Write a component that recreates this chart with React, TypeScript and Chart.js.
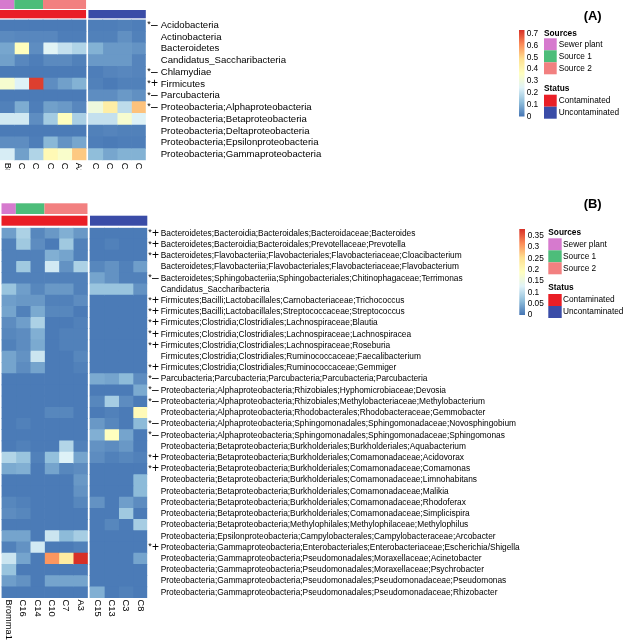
import { useEffect, useRef } from "react";
import { Chart, registerables } from "chart.js";
Chart.register(...registerables);

// ---------------- data ----------------
const samples = ["Bromma1", "C16", "C14", "C10", "C7", "A3", "C15", "C13", "C3", "C8"];
const sampleSource: (string | null)[] = ["Sewer plant", "Source 1", "Source 1", "Source 2", "Source 2", "Source 2", null, null, null, null];
const sampleStatus = ["Contaminated", "Contaminated", "Contaminated", "Contaminated", "Contaminated", "Contaminated", "Uncontaminated", "Uncontaminated", "Uncontaminated", "Uncontaminated"];
const sourceLevels = ["Sewer plant", "Source 1", "Source 2"];
const statusLevels = ["Contaminated", "Uncontaminated"];

const phylumLabels = [
  "Acidobacteria",
  "Actinobacteria",
  "Bacteroidetes",
  "Candidatus_Saccharibacteria",
  "Chlamydiae",
  "Firmicutes",
  "Parcubacteria",
  "Proteobacteria;Alphaproteobacteria",
  "Proteobacteria;Betaproteobacteria",
  "Proteobacteria;Deltaproteobacteria",
  "Proteobacteria;Epsilonproteobacteria",
  "Proteobacteria;Gammaproteobacteria",
];
const phylumMarks = ["–", "", "", "", "–", "+", "–", "–", "", "", "", ""];
const phylumValues = [
  [0.01, 0.01, 0.01, 0.01, 0.01, 0.01, 0.015, 0.015, 0.02, 0.015],
  [0.035, 0.03, 0.03, 0.03, 0.015, 0.015, 0.02, 0.02, 0.045, 0.02],
  [0.08, 0.37, 0.04, 0.25, 0.2, 0.17, 0.1, 0.06, 0.06, 0.05],
  [0.07, 0.03, 0.015, 0.035, 0.035, 0.02, 0.06, 0.06, 0.06, 0.025],
  [0.01, 0.01, 0.01, 0.01, 0.01, 0.01, 0.015, 0.025, 0.03, 0.025],
  [0.33, 0.24, 0.71, 0.04, 0.07, 0.1, 0.02, 0.01, 0.02, 0.02],
  [0.01, 0.01, 0.01, 0.01, 0.01, 0.01, 0.04, 0.04, 0.06, 0.045],
  [0.02, 0.09, 0.015, 0.07, 0.06, 0.03, 0.3, 0.43, 0.19, 0.53],
  [0.22, 0.22, 0.04, 0.15, 0.37, 0.16, 0.2, 0.2, 0.33, 0.24],
  [0.01, 0.01, 0.01, 0.01, 0.01, 0.01, 0.02, 0.025, 0.02, 0.02],
  [0.04, 0.04, 0.015, 0.11, 0.05, 0.08, 0.015, 0.01, 0.015, 0.015],
  [0.23, 0.07, 0.17, 0.39, 0.34, 0.52, 0.12, 0.08, 0.1, 0.1],
];
const phylumTicks = [0, 0.1, 0.2, 0.3, 0.4, 0.5, 0.6, 0.7];
const phylumMax = 0.73;

const genusLabels = [
  "Bacteroidetes;Bacteroidia;Bacteroidales;Bacteroidaceae;Bacteroides",
  "Bacteroidetes;Bacteroidia;Bacteroidales;Prevotellaceae;Prevotella",
  "Bacteroidetes;Flavobacteriia;Flavobacteriales;Flavobacteriaceae;Cloacibacterium",
  "Bacteroidetes;Flavobacteriia;Flavobacteriales;Flavobacteriaceae;Flavobacterium",
  "Bacteroidetes;Sphingobacteriia;Sphingobacteriales;Chitinophagaceae;Terrimonas",
  "Candidatus_Saccharibacteria",
  "Firmicutes;Bacilli;Lactobacillales;Carnobacteriaceae;Trichococcus",
  "Firmicutes;Bacilli;Lactobacillales;Streptococcaceae;Streptococcus",
  "Firmicutes;Clostridia;Clostridiales;Lachnospiraceae;Blautia",
  "Firmicutes;Clostridia;Clostridiales;Lachnospiraceae;Lachnospiracea",
  "Firmicutes;Clostridia;Clostridiales;Lachnospiraceae;Roseburia",
  "Firmicutes;Clostridia;Clostridiales;Ruminococcaceae;Faecalibacterium",
  "Firmicutes;Clostridia;Clostridiales;Ruminococcaceae;Gemmiger",
  "Parcubacteria;Parcubacteria;Parcubacteria;Parcubacteria;Parcubacteria",
  "Proteobacteria;Alphaproteobacteria;Rhizobiales;Hyphomicrobiaceae;Devosia",
  "Proteobacteria;Alphaproteobacteria;Rhizobiales;Methylobacteriaceae;Methylobacterium",
  "Proteobacteria;Alphaproteobacteria;Rhodobacterales;Rhodobacteraceae;Gemmobacter",
  "Proteobacteria;Alphaproteobacteria;Sphingomonadales;Sphingomonadaceae;Novosphingobium",
  "Proteobacteria;Alphaproteobacteria;Sphingomonadales;Sphingomonadaceae;Sphingomonas",
  "Proteobacteria;Betaproteobacteria;Burkholderiales;Burkholderiales;Aquabacterium",
  "Proteobacteria;Betaproteobacteria;Burkholderiales;Comamonadaceae;Acidovorax",
  "Proteobacteria;Betaproteobacteria;Burkholderiales;Comamonadaceae;Comamonas",
  "Proteobacteria;Betaproteobacteria;Burkholderiales;Comamonadaceae;Limnohabitans",
  "Proteobacteria;Betaproteobacteria;Burkholderiales;Comamonadaceae;Malikia",
  "Proteobacteria;Betaproteobacteria;Burkholderiales;Comamonadaceae;Rhodoferax",
  "Proteobacteria;Betaproteobacteria;Burkholderiales;Comamonadaceae;Simplicispira",
  "Proteobacteria;Betaproteobacteria;Methylophilales;Methylophilaceae;Methylophilus",
  "Proteobacteria;Epsilonproteobacteria;Campylobacterales;Campylobacteraceae;Arcobacter",
  "Proteobacteria;Gammaproteobacteria;Enterobacteriales;Enterobacteriaceae;Escherichia/Shigella",
  "Proteobacteria;Gammaproteobacteria;Pseudomonadales;Moraxellaceae;Acinetobacter",
  "Proteobacteria;Gammaproteobacteria;Pseudomonadales;Moraxellaceae;Psychrobacter",
  "Proteobacteria;Gammaproteobacteria;Pseudomonadales;Pseudomonadaceae;Pseudomonas",
  "Proteobacteria;Gammaproteobacteria;Pseudomonadales;Pseudomonadaceae;Rhizobacter",
];
const genusMarks = ["+", "+", "+", "", "–", "", "+", "+", "+", "+", "+", "", "+", "–", "–", "–", "", "–", "–", "", "+", "+", "", "", "", "", "", "", "+", "", "", "", ""];
const genusValues = [
  [0.035, 0.085, 0.015, 0.03, 0.05, 0.03, 0.005, 0.005, 0.005, 0.005],
  [0.01, 0.075, 0.02, 0.005, 0.075, 0.01, 0.005, 0.01, 0.005, 0.005],
  [0.01, 0.01, 0.01, 0.05, 0.04, 0.01, 0.005, 0.005, 0.005, 0.005],
  [0.01, 0.075, 0.01, 0.115, 0.025, 0.085, 0.015, 0.025, 0.01, 0.035],
  [0.01, 0.01, 0.01, 0.01, 0.01, 0.01, 0.04, 0.025, 0.01, 0.01],
  [0.07, 0.035, 0.015, 0.03, 0.03, 0.01, 0.07, 0.07, 0.07, 0.025],
  [0.035, 0.03, 0.03, 0.01, 0.01, 0.02, 0.005, 0.005, 0.005, 0.005],
  [0.04, 0.01, 0.045, 0.015, 0.015, 0.005, 0.005, 0.005, 0.005, 0.005],
  [0.02, 0.035, 0.085, 0.005, 0.005, 0.01, 0.005, 0.005, 0.005, 0.005],
  [0.015, 0.02, 0.05, 0.005, 0.01, 0.01, 0.005, 0.005, 0.005, 0.005],
  [0.01, 0.02, 0.045, 0.005, 0.01, 0.01, 0.005, 0.005, 0.005, 0.005],
  [0.04, 0.025, 0.11, 0.005, 0.005, 0.015, 0.005, 0.005, 0.005, 0.005],
  [0.04, 0.02, 0.04, 0.005, 0.005, 0.01, 0.005, 0.005, 0.005, 0.005],
  [0.005, 0.005, 0.005, 0.005, 0.005, 0.005, 0.045, 0.04, 0.06, 0.02],
  [0.005, 0.005, 0.005, 0.005, 0.005, 0.005, 0.005, 0.005, 0.005, 0.045],
  [0.005, 0.005, 0.005, 0.005, 0.005, 0.005, 0.015, 0.08, 0.02, 0.005],
  [0.005, 0.005, 0.005, 0.015, 0.015, 0.005, 0.005, 0.01, 0.005, 0.2],
  [0.005, 0.01, 0.005, 0.005, 0.005, 0.005, 0.03, 0.015, 0.005, 0.06],
  [0.005, 0.005, 0.005, 0.005, 0.005, 0.005, 0.05, 0.19, 0.04, 0.005],
  [0.005, 0.01, 0.005, 0.005, 0.09, 0.01, 0.025, 0.02, 0.03, 0.005],
  [0.09, 0.07, 0.01, 0.065, 0.125, 0.04, 0.02, 0.01, 0.015, 0.01],
  [0.045, 0.05, 0.005, 0.04, 0.015, 0.02, 0.005, 0.005, 0.005, 0.005],
  [0.005, 0.005, 0.005, 0.005, 0.005, 0.03, 0.005, 0.005, 0.005, 0.06],
  [0.005, 0.005, 0.005, 0.005, 0.005, 0.025, 0.005, 0.005, 0.005, 0.06],
  [0.015, 0.01, 0.005, 0.005, 0.005, 0.015, 0.025, 0.005, 0.035, 0.02],
  [0.02, 0.015, 0.005, 0.005, 0.005, 0.005, 0.005, 0.005, 0.075, 0.005],
  [0.005, 0.005, 0.005, 0.005, 0.005, 0.005, 0.005, 0.015, 0.005, 0.08],
  [0.04, 0.04, 0.005, 0.11, 0.06, 0.08, 0.005, 0.005, 0.005, 0.005],
  [0.01, 0.025, 0.115, 0.005, 0.005, 0.01, 0.005, 0.005, 0.005, 0.005],
  [0.11, 0.04, 0.005, 0.31, 0.23, 0.38, 0.005, 0.005, 0.005, 0.04],
  [0.07, 0.005, 0.005, 0.005, 0.005, 0.005, 0.005, 0.005, 0.005, 0.005],
  [0.035, 0.025, 0.005, 0.04, 0.04, 0.04, 0.005, 0.005, 0.005, 0.005],
  [0.005, 0.005, 0.005, 0.005, 0.005, 0.005, 0.05, 0.005, 0.01, 0.005],
];
const genusTicks = [0, 0.05, 0.1, 0.15, 0.2, 0.25, 0.3, 0.35];
const genusMax = 0.38;

// ---------------- styles ----------------
const PALETTE = ["#4575B4", "#91BFDB", "#E0F3F8", "#FFFFBF", "#FEE090", "#FC8D59", "#D73027"];
const SOURCE_COLORS: Record<string, string> = { "Sewer plant": "#D67ACE", "Source 1": "#4DBD7A", "Source 2": "#F28080" };
const STATUS_COLORS: Record<string, string> = { Contaminated: "#E91E26", Uncontaminated: "#3A4CA7" };
const FONT = '"Liberation Sans", Arial, Helvetica, sans-serif';

function hexRgb(h: string) {
  return [parseInt(h.slice(1, 3), 16), parseInt(h.slice(3, 5), 16), parseInt(h.slice(5, 7), 16)];
}
const PAL_RGB = PALETTE.map(hexRgb);
function heatColor(t: number) {
  const c = Math.max(0, Math.min(1, t)) * (PAL_RGB.length - 1);
  const i = Math.min(PAL_RGB.length - 2, Math.floor(c));
  const f = c - i;
  const a = PAL_RGB[i], b = PAL_RGB[i + 1];
  const m = (k: number) => Math.round(a[k] + (b[k] - a[k]) * f);
  return `rgb(${m(0)},${m(1)},${m(2)})`;
}

type Panel = {
  top: number;
  height: number;
  title: string;
  labels: string[];
  marks: string[];
  values: number[][];
  ticks: number[];
  max: number;
  area: { left: number; right: number; top: number; bottom: number };
  gap: number;
  src: [number, number];
  status: [number, number];
  rowFont: number;
  markX: number;
  nameX: number;
  colLabelTop: number;
  legend: {
    barX: number; barW: number; barTop: number; barBottom: number; tickX: number;
    srcX: number; swW: number; swH: number; srcTitleY: number; srcTop: number;
    textX: number; statusTitleY: number; statusTop: number; titleRight: number; titleY: number;
  };
};

const panels: Panel[] = [
  {
    top: 0, height: 170, title: "(A)",
    labels: phylumLabels, marks: phylumMarks, values: phylumValues, ticks: phylumTicks, max: phylumMax,
    area: { left: 0, right: 145.8, top: 19.5, bottom: 160.3 }, gap: 0.165,
    src: [0, 9], status: [10, 18.3],
    rowFont: 9.6, markX: 147.3, nameX: 160.7, colLabelTop: 162.8,
    legend: {
      barX: 519, barW: 5.5, barTop: 30, barBottom: 116.5, tickX: 526.7,
      srcX: 544, swW: 12.7, swH: 12, srcTitleY: 33.7, srcTop: 38.3,
      textX: 558.7, statusTitleY: 89, statusTop: 94.7, titleRight: 601.7, titleY: 16,
    },
  },
  {
    top: 170, height: 472, title: "(B)",
    labels: genusLabels, marks: genusMarks, values: genusValues, ticks: genusTicks, max: genusMax,
    area: { left: 1.5, right: 147.3, top: 57.7, bottom: 428 }, gap: 0.175,
    src: [33.3, 44], status: [45.7, 55.7],
    rowFont: 8.35, markX: 148.3, nameX: 160.7, colLabelTop: 429.5,
    legend: {
      barX: 519.3, barW: 5.7, barTop: 59, barBottom: 145, tickX: 527.7,
      srcX: 548.3, swW: 13.4, swH: 12, srcTitleY: 62.3, srcTop: 68.3,
      textX: 563, statusTitleY: 117.7, statusTop: 124, titleRight: 601.7, titleY: 34,
    },
  },
];

function columnStarts(gap: number) {
  let offset = 0;
  return samples.map((_, j) => {
    if (j > 0 && sampleStatus[j] !== sampleStatus[j - 1]) offset += gap;
    return j + offset;
  });
}

function HeatPanel({ p }: { p: Panel }) {
  const ref = useRef<HTMLCanvasElement | null>(null);
  useEffect(() => {
    if (!ref.current) return;
    const starts = columnStarts(p.gap);
    const xMax = starts[starts.length - 1] + 1;
    const datasets = samples.map((_, j) => ({
      label: samples[j],
      data: p.labels.map(() => [starts[j], starts[j] + 1]),
      backgroundColor: p.labels.map((_, i) => heatColor(p.values[i][j] / p.max)),
      borderWidth: 0,
      barPercentage: 1,
      categoryPercentage: 1,
      grouped: false,
      inflateAmount: 0.35,
    }));

    const decor = {
      id: "decor",
      afterDraw(chart: any) {
        const ctx: CanvasRenderingContext2D = chart.ctx;
        const xs = chart.scales.x;
        const ys = chart.scales.y;
        ctx.save();
        // annotation tracks
        const track = (levels: (string | null)[], colors: Record<string, string>, y0: number, y1: number) => {
          let j = 0;
          while (j < samples.length) {
            let k = j;
            while (k + 1 < samples.length && levels[k + 1] === levels[j] && Math.abs(starts[k + 1] - starts[k] - 1) < 1e-6) k++;
            const lv = levels[j];
            if (lv) {
              const x0 = xs.getPixelForValue(starts[j]);
              const x1 = xs.getPixelForValue(starts[k] + 1);
              ctx.fillStyle = colors[lv];
              ctx.fillRect(x0, y0, x1 - x0, y1 - y0);
            }
            j = k + 1;
          }
        };
        track(sampleSource, SOURCE_COLORS, p.src[0], p.src[1]);
        track(sampleStatus, STATUS_COLORS, p.status[0], p.status[1]);

        // row labels
        ctx.fillStyle = "#000";
        ctx.textBaseline = "middle";
        ctx.textAlign = "left";
        p.labels.forEach((name, i) => {
          const y = ys.getPixelForValue(i);
          ctx.font = `${p.rowFont}px ${FONT}`;
          ctx.fillText(name, p.nameX, y);
          if (p.marks[i]) {
            ctx.font = `9px ${FONT}`;
            ctx.fillText("*", p.markX, y - 0.5);
            ctx.font = `12px ${FONT}`;
            ctx.fillText(p.marks[i], p.markX + 3.6, y);
          }
        });

        // column labels (rotated, reading downward)
        ctx.font = `9.3px ${FONT}`;
        samples.forEach((s, j) => {
          const xc = xs.getPixelForValue(starts[j] + 0.5);
          ctx.save();
          ctx.translate(xc, p.colLabelTop);
          ctx.rotate(Math.PI / 2);
          ctx.textAlign = "left";
          ctx.textBaseline = "middle";
          ctx.fillText(s, 0, 0);
          ctx.restore();
        });

        // colour bar
        const L = p.legend;
        const grad = ctx.createLinearGradient(0, L.barBottom, 0, L.barTop);
        PALETTE.forEach((c, i) => grad.addColorStop(i / (PALETTE.length - 1), c));
        ctx.fillStyle = grad;
        ctx.fillRect(L.barX, L.barTop, L.barW, L.barBottom - L.barTop);
        ctx.fillStyle = "#000";
        ctx.font = `8.3px ${FONT}`;
        ctx.textAlign = "left";
        ctx.textBaseline = "middle";
        p.ticks.forEach((t) => {
          const y = L.barBottom - (t / p.max) * (L.barBottom - L.barTop);
          ctx.fillText(String(t), L.tickX, y);
        });

        // sources legend
        ctx.font = `bold 8.3px ${FONT}`;
        ctx.fillText("Sources", L.srcX, L.srcTitleY);
        sourceLevels.forEach((lv, i) => {
          const y = L.srcTop + i * L.swH;
          ctx.fillStyle = SOURCE_COLORS[lv];
          ctx.fillRect(L.srcX, y, L.swW, L.swH);
          ctx.fillStyle = "#000";
          ctx.font = `8.3px ${FONT}`;
          ctx.fillText(lv, L.textX, y + L.swH / 2);
        });
        ctx.font = `bold 8.3px ${FONT}`;
        ctx.fillText("Status", L.srcX, L.statusTitleY);
        statusLevels.forEach((lv, i) => {
          const y = L.statusTop + i * L.swH;
          ctx.fillStyle = STATUS_COLORS[lv];
          ctx.fillRect(L.srcX, y, L.swW, L.swH);
          ctx.fillStyle = "#000";
          ctx.font = `8.3px ${FONT}`;
          ctx.fillText(lv, L.textX, y + L.swH / 2);
        });

        // panel title
        ctx.font = `bold 13px ${FONT}`;
        ctx.textAlign = "right";
        ctx.fillText(p.title, L.titleRight, L.titleY);
        ctx.restore();
      },
    };

    const chart = new Chart(ref.current, {
      type: "bar",
      data: { labels: p.labels, datasets: datasets as any },
      options: {
        indexAxis: "y",
        responsive: false,
        maintainAspectRatio: false,
        animation: false,
        devicePixelRatio: 1,
        layout: {
          padding: {
            left: p.area.left,
            right: 625 - p.area.right,
            top: p.area.top,
            bottom: p.height - p.area.bottom,
          },
        },
        scales: {
          x: { type: "linear", min: 0, max: xMax, display: false },
          y: { type: "category", display: false, offset: true },
        },
        plugins: { legend: { display: false }, tooltip: { enabled: false }, title: { display: false } },
      } as any,
      plugins: [decor],
    });
    return () => chart.destroy();
  }, [p]);
  return (
    <canvas
      ref={ref}
      width={625}
      height={p.height}
      style={{ position: "absolute", left: 0, top: p.top, width: 625, height: p.height, display: "block" }}
    />
  );
}

export default function App() {
  return (
    <div style={{ position: "absolute", left: 0, top: 0, width: 625, height: 642, background: "#fff", overflow: "hidden" }}>
      {panels.map((p) => (
        <HeatPanel key={p.title} p={p} />
      ))}
    </div>
  );
}
